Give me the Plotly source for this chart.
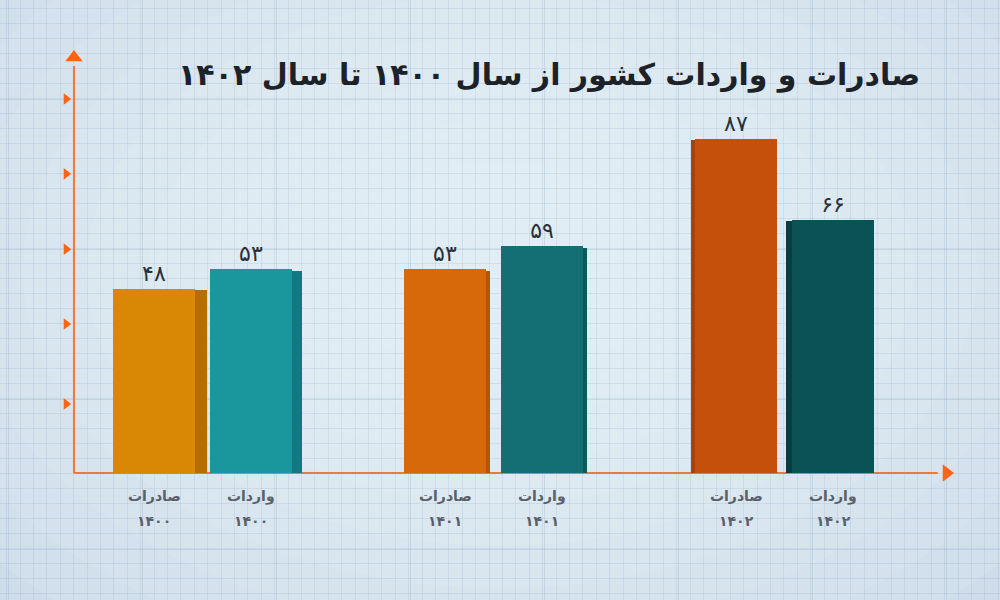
import plotly.graph_objects as go

# ---- data ----
years = ["۱۴۰۰", "۱۴۰۱", "۱۴۰۲"]
kinds = ["صادرات", "واردات"]
exports = [48, 53, 87]
imports = [53, 59, 66]
title_text = "صادرات و واردات کشور از سال ۱۴۰۰ تا سال ۱۴۰۲"
y_tick_marks = [18, 38.8, 58.3, 77.9, 97.4]

# ---- styles ----
front_colors = ["#d98806", "#1a979d", "#d8690b", "#136f73", "#c4500b", "#0b5255"]
side_colors = ["#b86d04", "#117a80", "#b55508", "#0d5a5e", "#a8420a", "#083e41"]
side_w = [0.12, 0.10, 0.04, 0.04, 0.04, 0.06]
side_dir = [1, 1, 1, 1, -1, -1]
bar_w = 0.85
axis_col = "#f07838"
arrow_col = "#ff6414"
FONT = "DejaVu Sans"

def fa(n):
    return str(n).translate(str.maketrans("0123456789", "۰۱۲۳۴۵۶۷۸۹"))

xs, vals, labels_k, labels_y = [], [], [], []
for g, y in enumerate(years):
    for m, k in enumerate(kinds):
        xs.append(g * 3 + m)
        vals.append((exports if m == 0 else imports)[g])
        labels_k.append(k)
        labels_y.append(y)

fig = go.Figure()

# side faces
fig.add_trace(go.Bar(
    x=[x + d * (bar_w / 2 + w / 2) for x, w, d in zip(xs, side_w, side_dir)],
    y=[v - 0.3 for v in vals], width=side_w, marker=dict(color=side_colors, line_width=0),
    hoverinfo="skip", showlegend=False))
# front faces
fig.add_trace(go.Bar(
    x=xs, y=vals, width=bar_w, marker=dict(color=front_colors, line_width=0),
    text=[fa(v) for v in vals], textposition="outside",
    textfont=dict(size=22, color="#2a3038", family=FONT), cliponaxis=False,
    hoverinfo="skip", showlegend=False))

# axes: lines + arrowheads
x_axis_left = -0.825
x_axis_right = 8.08
y_axis_top = 106
fig.add_shape(type="line", x0=x_axis_left, x1=x_axis_left, y0=0, y1=y_axis_top,
              line=dict(color=axis_col, width=2), layer="above")
fig.add_shape(type="line", x0=x_axis_left, x1=x_axis_right, y0=0, y1=0,
              line=dict(color=axis_col, width=2), layer="below")
fig.add_trace(go.Scatter(x=[x_axis_left], y=[108.2], mode="markers",
                         marker=dict(symbol="triangle-up", size=15, color=arrow_col),
                         hoverinfo="skip", showlegend=False))
fig.add_trace(go.Scatter(x=[8.17], y=[0], mode="markers",
                         marker=dict(symbol="triangle-right", size=15, color=arrow_col),
                         hoverinfo="skip", showlegend=False))
fig.add_trace(go.Scatter(x=[-0.905] * len(y_tick_marks), y=y_tick_marks, mode="markers",
                         marker=dict(symbol="triangle-right", size=10, color=arrow_col),
                         hoverinfo="skip", showlegend=False))

# category labels
for x, k, y in zip(xs, labels_k, labels_y):
    fig.add_annotation(x=x, y=0, text="<b>" + k + "</b>", showarrow=False, yanchor="middle", yshift=-23,
                       font=dict(size=14, color="#59606a", family=FONT))
    fig.add_annotation(x=x, y=0, text="<b>" + y + "</b>", showarrow=False, yanchor="middle", yshift=-48,
                       font=dict(size=14, color="#59606a", family=FONT))

# title
fig.add_annotation(xref="paper", yref="paper", x=0.922, y=0.875, xanchor="right", yanchor="middle",
                   text="<b>" + title_text + "</b>", showarrow=False,
                   font=dict(size=30, color="#1d2228", family=FONT))

# background vignette
for i in range(12):
    rx = 0.95 - i * 0.07
    ry = 0.95 - i * 0.07
    fig.add_shape(type="circle", xref="paper", yref="paper",
                  x0=0.5 - rx * 0.9, x1=0.5 + rx * 0.9, y0=0.55 - ry, y1=0.55 + ry,
                  fillcolor="#f0fbff", opacity=0.09, line_width=0, layer="below")

px_x = 97.0   # px per x unit
px_y = 3.84   # px per y unit
fig.update_layout(
    width=1000, height=600, margin=dict(l=0, r=0, t=0, b=0),
    paper_bgcolor="#c4d4e6", plot_bgcolor="rgba(0,0,0,0)",
    barmode="overlay", bargap=0, showlegend=False,
    xaxis=dict(range=[-154 / px_x, 846 / px_x], showticklabels=False, zeroline=False,
               showgrid=True, tick0=(8 - 154) / px_x, dtick=134 / px_x,
               gridcolor="rgba(120,150,185,0.22)", gridwidth=1,
               minor=dict(dtick=13.4 / px_x, showgrid=True, gridcolor="rgba(120,150,185,0.15)")),
    yaxis=dict(range=[-127 / px_y, 473 / px_y], showticklabels=False, zeroline=False,
               showgrid=True, tick0=(473 - 99) / px_y, dtick=150 / px_y,
               gridcolor="rgba(120,150,185,0.22)", gridwidth=1,
               minor=dict(dtick=15 / px_y, showgrid=True, gridcolor="rgba(120,150,185,0.15)")),
)

fig.write_html("out.html", config={"displayModeBar": False},
               post_script="document.body.style.margin='0';document.body.style.overflow='hidden';")
